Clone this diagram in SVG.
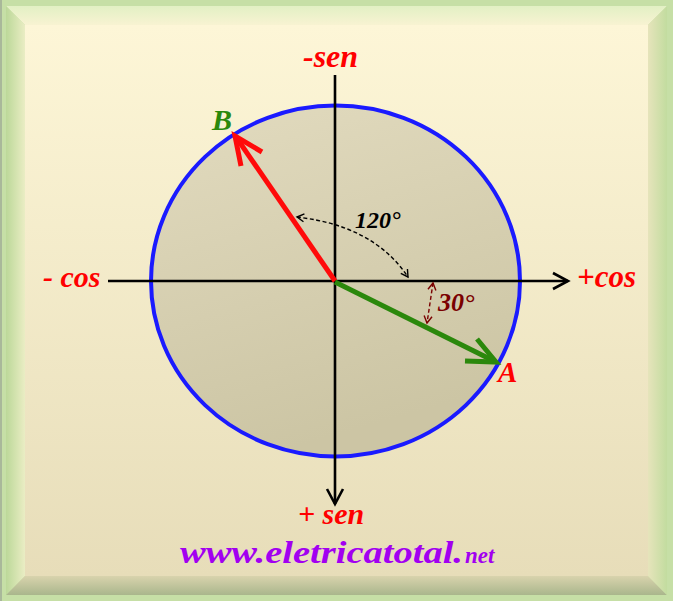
<svg xmlns="http://www.w3.org/2000/svg" width="673" height="601" viewBox="0 0 673 601">
<style>
.lbl{font-family:"Liberation Serif","Times New Roman",serif;font-weight:bold;font-style:italic}
.axis{stroke:#000;stroke-width:2.6;fill:none}
.dash{fill:none;stroke-width:1.4;stroke-dasharray:4 2.5}
</style>
<defs>
<linearGradient id="face" x1="0" y1="0" x2="0" y2="1">
<stop offset="0" stop-color="#fdf6d7"/>
<stop offset="1" stop-color="#e7ddb9"/>
</linearGradient>
<linearGradient id="disc" x1="0" y1="0" x2="0.3" y2="1">
<stop offset="0" stop-color="#e2dbbf"/>
<stop offset="1" stop-color="#ccc5a4"/>
</linearGradient>
<linearGradient id="lbev" x1="0" y1="0" x2="1" y2="0">
<stop offset="0" stop-color="#bcd899"/>
<stop offset="1" stop-color="#eaedc4"/>
</linearGradient>
<linearGradient id="rbev" x1="0" y1="0" x2="1" y2="0">
<stop offset="0" stop-color="#e6e4bb"/>
<stop offset="1" stop-color="#c2dc9f"/>
</linearGradient>
<linearGradient id="bbev" x1="0" y1="0" x2="0" y2="1">
<stop offset="0" stop-color="#d9d3ad"/>
<stop offset="1" stop-color="#a9b68c"/>
</linearGradient>
<linearGradient id="tbev" x1="0" y1="0" x2="0" y2="1">
<stop offset="0" stop-color="#e2f0c4"/>
<stop offset="1" stop-color="#f8f3d2"/>
</linearGradient>
<marker id="ah" markerUnits="userSpaceOnUse" markerWidth="24" markerHeight="24" viewBox="-20 -12 24 24" refX="0" refY="0" orient="auto">
<path d="M-15,-8 L0,0 L-15,8" fill="none" stroke="#000" stroke-width="2.6"/>
</marker>
<marker id="sk" markerUnits="userSpaceOnUse" markerWidth="14" markerHeight="14" viewBox="-10 -7 14 14" refX="0" refY="0" orient="auto-start-reverse">
<path d="M-7,-4 L0,0 L-7,4" fill="none" stroke="#000" stroke-width="1.4"/>
</marker>
<marker id="sr" markerUnits="userSpaceOnUse" markerWidth="14" markerHeight="14" viewBox="-10 -7 14 14" refX="0" refY="0" orient="auto-start-reverse">
<path d="M-7,-4 L0,0 L-7,4" fill="none" stroke="#7a0000" stroke-width="1.4"/>
</marker>
</defs>
<g id="frame">
<rect x="0" y="0" width="673" height="601" fill="#c6dfa6"/>
<rect x="0" y="0" width="2" height="601" fill="#a9b89a"/>
<polygon points="6,6 667,6 648,25 25,25" fill="url(#tbev)"/>
<polygon points="6,6 25,25 25,576 6,595" fill="url(#lbev)"/>
<polygon points="6,595 25,576 648,576 667,595" fill="url(#bbev)"/>
<polygon points="667,6 667,595 648,576 648,25" fill="url(#rbev)"/>
<rect x="25" y="25" width="623" height="551" fill="url(#face)"/>
</g>
<g id="circle">
<ellipse cx="335.5" cy="281" rx="184.5" ry="175.5" fill="url(#disc)" stroke="#1a1aff" stroke-width="4"/>
</g>
<g id="connectors">
<line id="x-axis" class="axis" x1="108" y1="281" x2="568" y2="281" marker-end="url(#ah)"/>
<line id="y-axis" class="axis" x1="335" y1="75" x2="335" y2="504" marker-end="url(#ah)"/>
<g id="vector-B" fill="none" stroke="#ff0a0a" stroke-width="5" stroke-linecap="butt" stroke-linejoin="miter">
<line x1="335" y1="281" x2="236" y2="137"/>
<polyline points="262,152 235,136 241,166"/>
</g>
<g id="vector-A" fill="none" stroke="#2b880c" stroke-width="5" stroke-linejoin="miter">
<line x1="335" y1="282" x2="494" y2="361"/>
<polyline points="477,339 496,362 465,361"/>
</g>
<path id="arc-120" class="dash" stroke="#000" d="M297,217 C330,221 378,232 408,277" marker-start="url(#sk)" marker-end="url(#sk)"/>
<path id="arc-30" class="dash" stroke="#7a0000" d="M433,283 C431,296 429,310 427,323" marker-start="url(#sr)" marker-end="url(#sr)"/>
</g>
<g id="labels" class="lbl">
<text x="303" y="67" font-size="32" fill="#ff0000">-sen</text>
<text x="298" y="524" font-size="30" fill="#ff0000">+ sen</text>
<text x="43" y="287" font-size="30" fill="#ff0000">- cos</text>
<text x="577" y="287" font-size="31" fill="#ff0000">+cos</text>
<text x="212" y="130" font-size="30" fill="#2b880c">B</text>
<text x="498" y="382" font-size="29" fill="#ff0000">A</text>
<text x="355" y="228" font-size="24" fill="#000">120°</text>
<text x="438" y="311" font-size="26" fill="#7a0000">30°</text>
</g>
<g id="url" class="lbl" fill="#a200f0">
<text x="180" y="563" font-size="31" textLength="283" lengthAdjust="spacingAndGlyphs">www.eletricatotal.</text>
<text x="465" y="563" font-size="23">net</text>
</g>
</svg>
